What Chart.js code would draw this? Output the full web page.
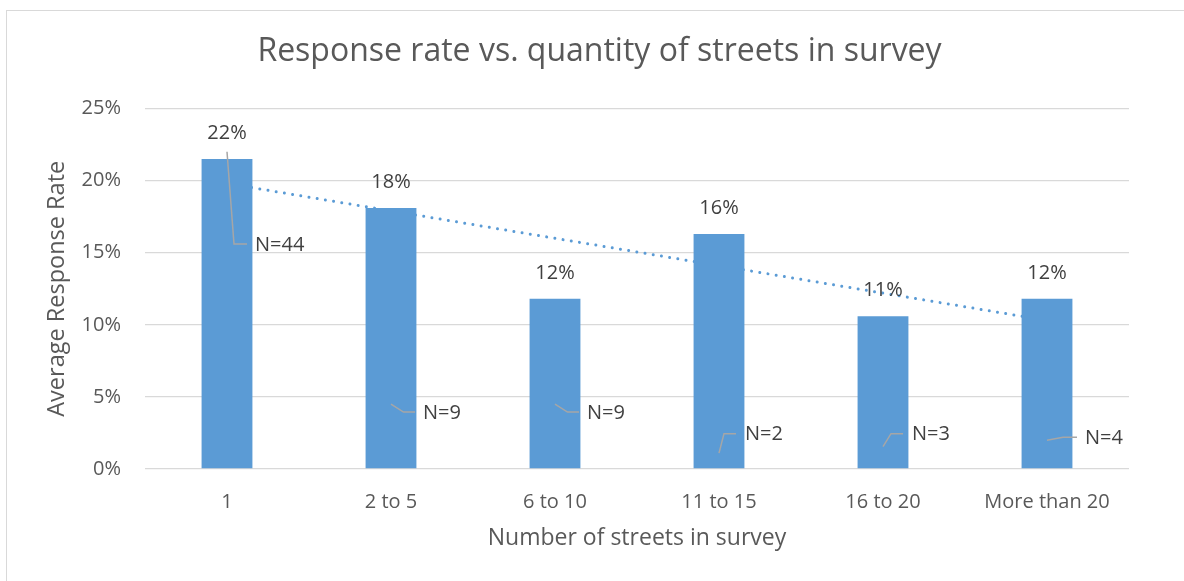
<!DOCTYPE html>
<html>
<head>
<meta charset="utf-8">
<script src="https://cdn.jsdelivr.net/npm/chart.js@4"></script>
<style>
  body { margin: 0; background: #fff; overflow: hidden; }
  #wrap { position: relative; width: 1184px; height: 581px; }
  #frame { position: absolute; left: 6px; top: 10px; width: 1200px; height: 600px; border: 1.5px solid #d9d9d9; }
  canvas { position: absolute; left: 0; top: 0; }
</style>
</head>
<body>
<div id="wrap">
  <div id="frame"></div>
  <canvas id="myChart" width="1184" height="581"></canvas>
</div>
<script>
var ctx = document.getElementById('myChart');

// data
const categories = ['1', '2 to 5', '6 to 10', '11 to 15', '16 to 20', 'More than 20'];
const responseRate = [21.5, 18.1, 11.8, 16.3, 10.6, 11.8];
const surveyCount = [44, 9, 9, 2, 3, 4];
const trendLine = [19.8, null, null, null, null, 10.3];
const yTicks = [0, 5, 10, 15, 20, 25];

const barColor = '#5B9BD5';
const labelColor = '#404040';
const axisColor = '#595959';
const fontName = "'Open Sans', sans-serif";

// where each "N=" label sits: x offsets from bar centre (px), y in axis units
const nLayout = [
  { start: 22.0, corner: 15.6, dx: [0, 7, 20, 28] },
  { start: 4.5, corner: 3.95, dx: [0, 12.5, 24, 32] },
  { start: 4.5, corner: 3.95, dx: [0, 12.5, 24, 32] },
  { start: 1.1, corner: 2.45, dx: [0, 5, 17, 26] },
  { start: 1.55, corner: 2.45, dx: [0, 8, 20, 29] },
  { start: 2.0, corner: 2.2, dx: [0, 16, 30, 38] }
];

const barLabels = {
  id: 'barLabels',
  afterDatasetsDraw(chart) {
    const { ctx, scales: { y } } = chart;
    const meta = chart.getDatasetMeta(0);
    ctx.save();
    ctx.font = '20px ' + fontName;
    ctx.fillStyle = labelColor;
    ctx.textAlign = 'center';
    ctx.textBaseline = 'middle';
    meta.data.forEach((bar, i) => {
      ctx.fillText(Math.round(responseRate[i]) + '%', bar.x, bar.y - 26);
    });

    // N= labels with leader lines
    ctx.strokeStyle = '#a6a6a6';
    ctx.lineWidth = 1.5;
    ctx.textAlign = 'left';
    meta.data.forEach((bar, i) => {
      const l = nLayout[i];
      const cx = bar.x;
      const y0 = y.getPixelForValue(l.start);
      const y1 = y.getPixelForValue(l.corner);
      ctx.beginPath();
      ctx.moveTo(cx + l.dx[0], y0);
      ctx.lineTo(cx + l.dx[1], y1);
      ctx.lineTo(cx + l.dx[2], y1);
      ctx.stroke();
      ctx.fillText('N=' + surveyCount[i], cx + l.dx[3], y1 + 1);
    });
    ctx.restore();
  }
};

var myChart = new Chart(ctx, {
  type: 'bar',
  data: {
    labels: categories,
    datasets: [{
      type: 'bar',
      data: responseRate,
      backgroundColor: barColor,
      barPercentage: 0.31,
      categoryPercentage: 1.0,
      order: 1
    }, {
      type: 'line',
      data: trendLine,
      spanGaps: true,
      borderColor: barColor,
      borderWidth: 3,
      borderDash: [0.01, 8.3],
      borderCapStyle: 'round',
      pointRadius: 0,
      fill: false,
      order: 2
    }]
  },
  options: {
    responsive: false,
    animation: false,
    layout: {
      padding: { left: 70, right: 55, top: 0, bottom: 0 }
    },
    plugins: {
      legend: { display: false },
      tooltip: { enabled: false },
      title: {
        display: true,
        text: 'Response rate vs. quantity of streets in survey',
        color: axisColor,
        font: { family: fontName, size: 32, weight: 'normal' },
        padding: { top: 32.7, bottom: 37.4 }
      }
    },
    scales: {
      x: {
        grid: { display: false, drawTicks: false },
        border: { display: false },
        ticks: {
          color: axisColor,
          font: { family: fontName, size: 20 },
          padding: 21,
          maxRotation: 0
        },
        title: {
          display: true,
          text: 'Number of streets in survey',
          color: axisColor,
          font: { family: fontName, size: 23 },
          padding: { top: 0, bottom: 29 }
        },
        afterFit(scale) { scale.height = 112; }
      },
      y: {
        min: 0,
        max: 25,
        grid: { color: '#d9d9d9', lineWidth: 1.3, drawTicks: false },
        border: { display: false },
        afterBuildTicks(scale) {
          scale.ticks = yTicks.map(v => ({ value: v }));
        },
        ticks: {
          color: axisColor,
          font: { family: fontName, size: 20 },
          padding: 24,
          callback: v => v + '%'
        },
        title: {
          display: true,
          text: 'Average Response Rate',
          color: axisColor,
          font: { family: fontName, size: 23.5 },
          padding: { top: -27, bottom: 0 }
        },
        afterFit(scale) { scale.width = 75; }
      }
    }
  },
  plugins: [barLabels]
});
</script>
</body>
</html>
